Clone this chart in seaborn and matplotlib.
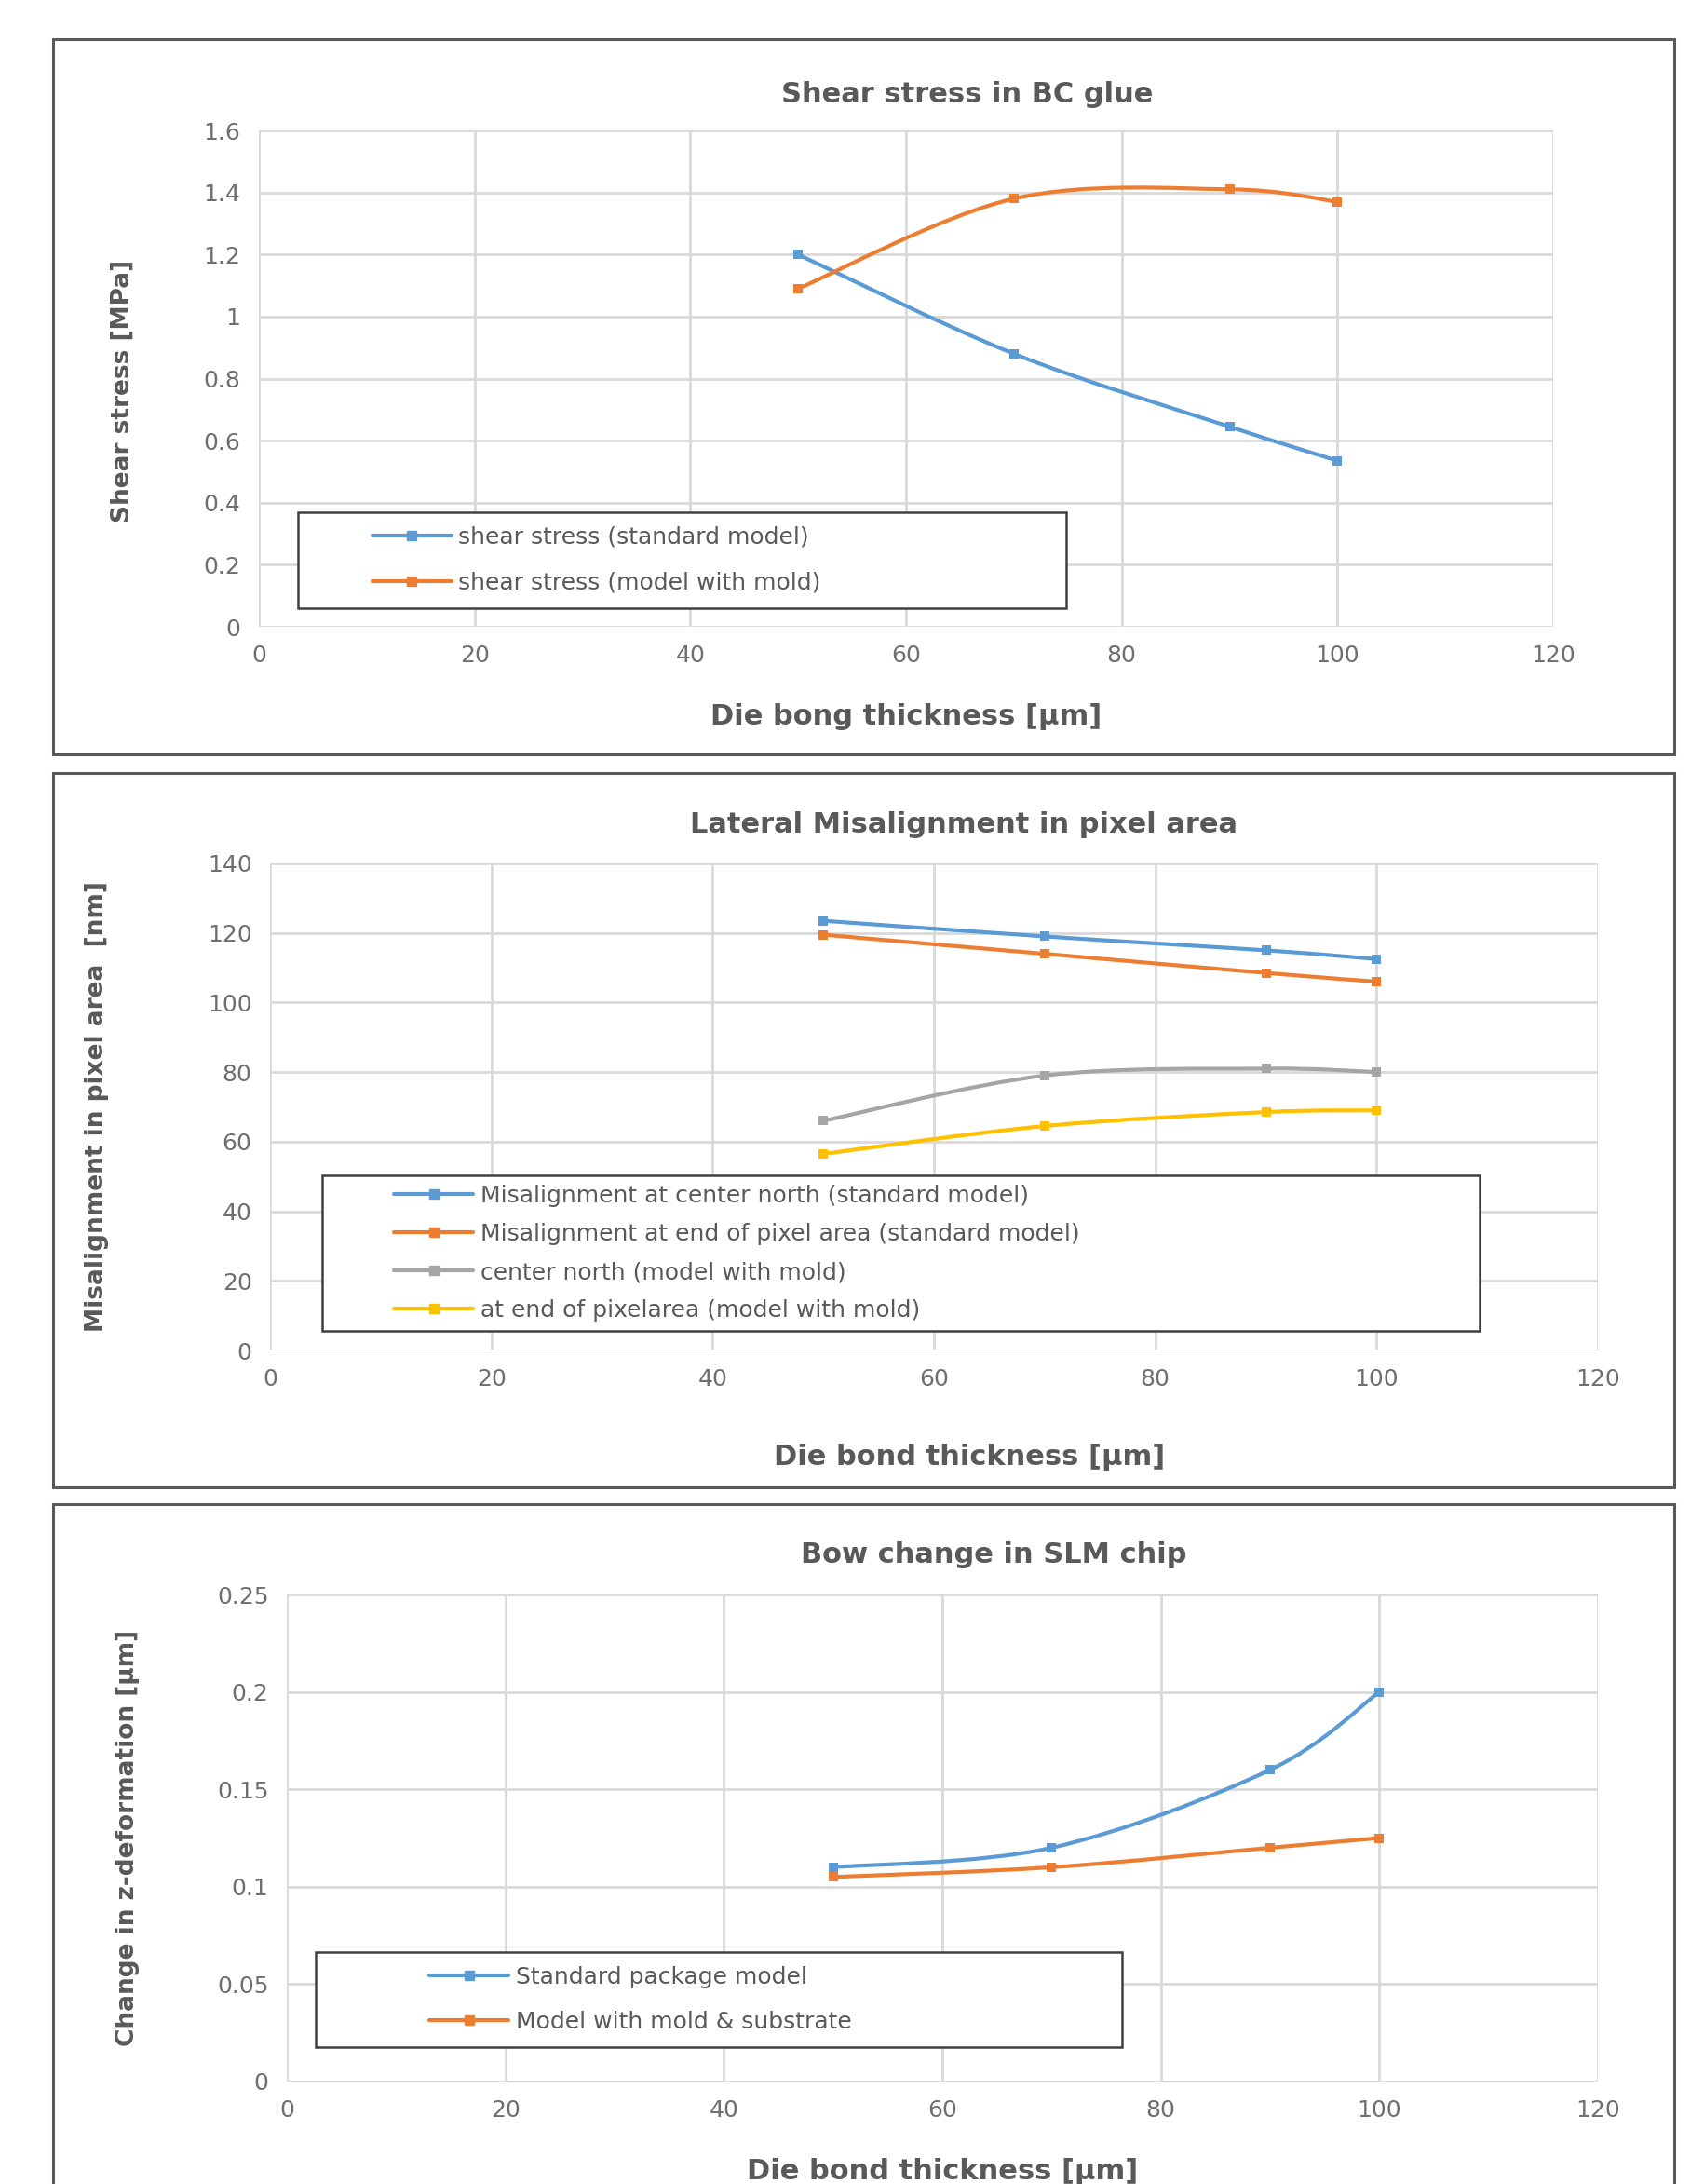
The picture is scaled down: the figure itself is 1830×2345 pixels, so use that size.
import numpy as np
import pandas as pd
import seaborn as sns
import matplotlib.pyplot as plt
from matplotlib.path import Path
from matplotlib.patches import PathPatch, Rectangle
from matplotlib.lines import Line2D
from matplotlib.legend_handler import HandlerLine2D

# data
thickness = [50, 70, 90, 100]

shear_standard = [1.20, 0.88, 0.645, 0.535]
shear_mold = [1.09, 1.38, 1.41, 1.37]

mis_center_std = [123.5, 119.0, 115.0, 112.5]
mis_end_std = [119.5, 114.0, 108.5, 106.0]
mis_center_mold = [66.0, 79.0, 81.0, 80.0]
mis_end_mold = [56.5, 64.5, 68.5, 69.0]

bow_standard = [0.11, 0.12, 0.16, 0.20]
bow_mold = [0.105, 0.11, 0.12, 0.125]

x_ticks = [0, 20, 40, 60, 80, 100, 120]

BLUE, ORANGE, GRAY, YELLOW = "#5B9BD5", "#ED7D31", "#A5A5A5", "#FFC000"
TXT = "#595959"

sns.set_style("whitegrid")
plt.rcParams['font.family'] = ['DejaVu Sans']


def smooth_path(x, y):
    # excel-style smoothed line as bezier segments
    pts = np.column_stack([x, y]).astype(float)
    n = len(pts)
    verts, codes = [pts[0]], [Path.MOVETO]
    for i in range(n - 1):
        p0 = pts[max(i - 1, 0)]
        p1, p2 = pts[i], pts[i + 1]
        p3 = pts[min(i + 2, n - 1)]
        verts += [p1 + (p2 - p0) / 6, p2 - (p3 - p1) / 6, p2]
        codes += [Path.CURVE4] * 3
    return Path(verts, codes)


def draw_series(ax, y, color, label):
    ax.add_patch(PathPatch(smooth_path(thickness, y), facecolor="none",
                           edgecolor=color, lw=3, zorder=3))
    df = pd.DataFrame({"x": thickness, "y": y})
    sns.scatterplot(data=df, x="x", y="y", ax=ax, color=color, marker="s",
                    s=50, linewidth=0, zorder=4, legend=False)
    return Line2D([], [], color=color, lw=3, marker="s", markersize=7,
                  label=label)


def style_axes(ax, ylim, yticks, yfmt, title, xlabel, ylabel,
               xlab_pos, ylab_pos, title_pos):
    ax.set_xlim(0, 120)
    ax.set_ylim(*ylim)
    ax.set_xticks(x_ticks)
    ax.set_yticks(yticks)
    ax.set_yticklabels([yfmt(v) for v in yticks])
    ax.grid(True, color="#D9D9D9", lw=2)
    for s in ax.spines.values():
        s.set_visible(False)
    ax.tick_params(colors="#6f6f6f", labelsize=18, length=0, pad=14)
    ax.set_xlabel(xlabel, fontsize=22, fontweight="bold", color=TXT)
    ax.set_ylabel(ylabel, fontsize=19, fontweight="bold", color=TXT)
    ax.xaxis.set_label_coords(*xlab_pos)
    ax.yaxis.set_label_coords(*ylab_pos)
    fig.text(title_pos[0], title_pos[1], title, fontsize=22,
             fontweight="bold", color=TXT, ha="center", va="center")


def add_legend(ax, handles, box, spacing, pad, indent):
    leg = ax.legend(handles=handles, loc="upper left",
                    bbox_to_anchor=box, mode="expand", fontsize=18,
                    frameon=True, fancybox=False, handlelength=3.4 + indent,
                    handler_map={Line2D: HandlerLine2D(xpad=indent)},
                    labelspacing=spacing, borderpad=pad,
                    borderaxespad=0, handletextpad=0.3, labelcolor=TXT)
    leg.get_frame().set_edgecolor("#404040")
    leg.get_frame().set_linewidth(1.8)
    leg.get_frame().set_alpha(1)
    leg.set_zorder(5)


W, H = 1830, 2345
fig = plt.figure(figsize=(W / 100, H / 100), dpi=100)


def axes_px(x0, y0, x1, y1):
    return fig.add_axes([x0 / W, 1 - y1 / H, (x1 - x0) / W, (y1 - y0) / H])


def fig_pt(x, y):
    return x / W, 1 - y / H


# panel borders
for (x0, y0, x1, y1) in [(57, 42, 1798, 810), (57, 830, 1798, 1597),
                         (57, 1615, 1798, 2360)]:
    fig.add_artist(Rectangle((x0 / W, 1 - y1 / H), (x1 - x0) / W,
                             (y1 - y0) / H, transform=fig.transFigure,
                             fill=False, edgecolor="#595959", lw=2.2))

# panel 1
ax1 = axes_px(278, 140, 1668, 673)
h = [draw_series(ax1, shear_standard, BLUE, "shear stress (standard model)"),
     draw_series(ax1, shear_mold, ORANGE, "shear stress (model with mold)")]
style_axes(ax1, (0, 1.6), np.round(np.arange(0, 1.61, 0.2), 1),
           lambda v: f"{v:g}", "Shear stress in BC glue",
           "Die bong thickness [µm]", "Shear stress [MPa]",
           (0.5, -0.154), (-0.096, 0.475), fig_pt(1039, 102))
add_legend(ax1, h, (0.03, 0.045, 0.594, 0.186), 1.0, 0.6, 2.6)

# panel 2
ax2 = axes_px(290, 927, 1716, 1450)
h = [draw_series(ax2, mis_center_std, BLUE,
                 "Misalignment at center north (standard model)"),
     draw_series(ax2, mis_end_std, ORANGE,
                 "Misalignment at end of pixel area (standard model)"),
     draw_series(ax2, mis_center_mold, GRAY,
                 "center north (model with mold)"),
     draw_series(ax2, mis_end_mold, YELLOW,
                 "at end of pixelarea (model with mold)")]
style_axes(ax2, (0, 140), list(range(0, 141, 20)), lambda v: f"{v:g}",
           "Lateral Misalignment in pixel area", "Die bond thickness [µm]",
           "Misalignment in pixel area  [nm]",
           (0.527, -0.191), (-0.121, 0.5), fig_pt(1035, 885))
add_legend(ax2, h, (0.039, 0.042, 0.872, 0.317), 0.68, 0.4, 2.7)

# panel 3
ax3 = axes_px(308, 1712, 1716, 2235)
h = [draw_series(ax3, bow_standard, BLUE, "Standard package model"),
     draw_series(ax3, bow_mold, ORANGE, "Model with mold & substrate")]
style_axes(ax3, (0, 0.25), [0, 0.05, 0.1, 0.15, 0.2, 0.25],
           lambda v: f"{v:g}", "Bow change in SLM chip",
           "Die bond thickness [µm]", "Change in z-deformation [µm]",
           (0.5, -0.157), (-0.112, 0.5), fig_pt(1067, 1670))
add_legend(ax3, h, (0.022, 0.076, 0.615, 0.19), 0.96, 0.6, 4.3)

fig.savefig("out.png", dpi=100, facecolor="white")
